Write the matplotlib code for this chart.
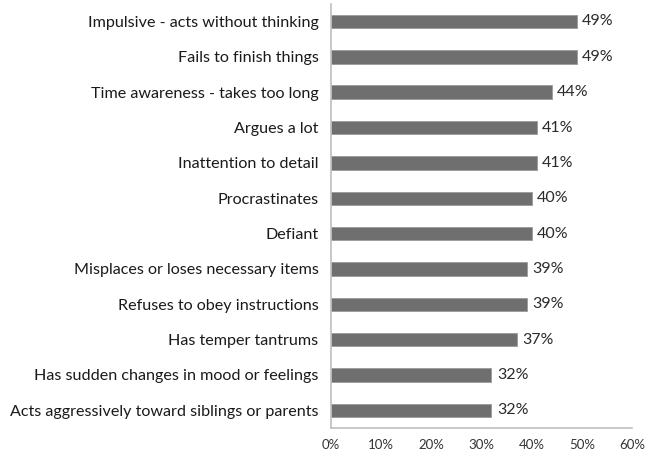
import matplotlib
matplotlib.use('Agg')
import matplotlib.pyplot as plt
from matplotlib.ticker import PercentFormatter

# Data (top to bottom as shown)
labels = ['Impulsive - acts without thinking',
          'Fails to finish things',
          'Time awareness - takes too long',
          'Argues a lot',
          'Inattention to detail',
          'Procrastinates',
          'Defiant',
          'Misplaces or loses necessary items',
          'Refuses to obey instructions',
          'Has temper tantrums',
          'Has sudden changes in mood or feelings',
          'Acts aggressively toward siblings or parents']
values = [49, 49, 44, 41, 41, 40, 40, 39, 39, 37, 32, 32]
xticks = [0, 10, 20, 30, 40, 50, 60]

plt.rcParams['font.family'] = ['Lato', 'DejaVu Sans']

fig = plt.figure(figsize=(6.55, 4.53), dpi=100)
ax = fig.add_axes([0.5053, 0.0552, 0.4595, 0.9364])

ypos = list(range(len(labels)))[::-1]
bars = ax.barh(ypos, values, height=0.38, color='#6f6f6f', edgecolor='#9a9a9a', linewidth=0.6)
for y, v in zip(ypos, values):
    ax.text(v + 1.1, y, '%d%%' % v, va='center', ha='left', fontsize=11.5, color='#2a2a2a')

ax.set_yticks(ypos)
ax.set_yticklabels(labels, fontsize=11.6, color='#1a1a1a')
ax.set_xlim(0, 60)
ax.set_ylim(-0.5, len(labels) - 0.5)
ax.set_xticks(xticks)
ax.xaxis.set_major_formatter(PercentFormatter(decimals=0))
ax.tick_params(axis='x', length=0, labelsize=9.5, labelcolor='#333333', pad=8)
ax.tick_params(axis='y', length=0, pad=9)

for s in ['top', 'right']:
    ax.spines[s].set_visible(False)
for s in ['left', 'bottom']:
    ax.spines[s].set_color('#bfbfbf')
    ax.spines[s].set_linewidth(1.2)

plt.savefig('out.png', dpi=100)
plt.close(fig)
